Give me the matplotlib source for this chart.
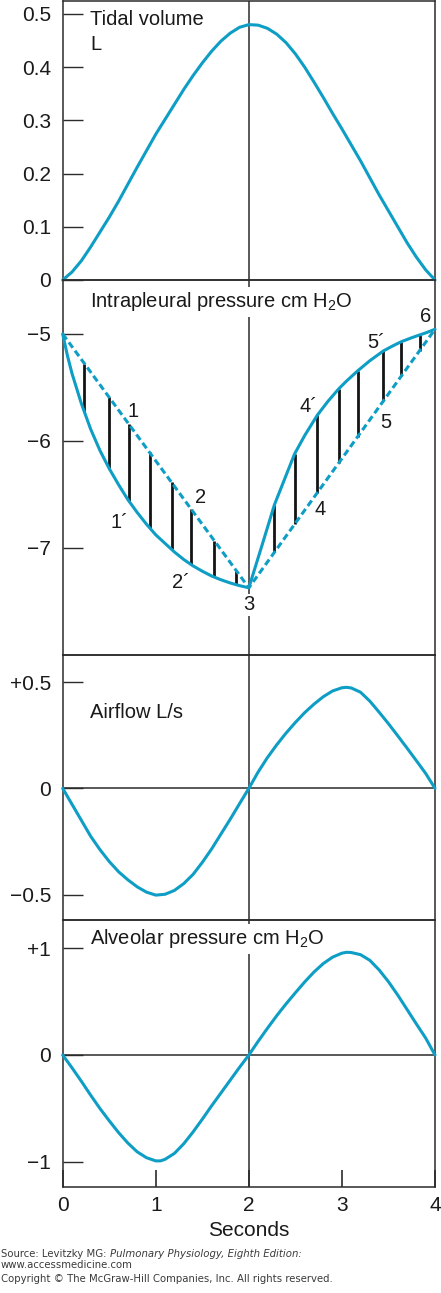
import matplotlib
matplotlib.use("Agg")
import matplotlib.pyplot as plt
import numpy as np

# ---------------- data ----------------
# Tidal volume (L)
tv_t = [0, 0.1, 0.2, 0.3, 0.4, 0.5, 0.6, 0.7, 0.8, 0.9, 1.0, 1.1, 1.2, 1.3, 1.4, 1.5, 1.6, 1.7, 1.8, 1.9,
        2.0, 2.1, 2.2, 2.3, 2.4, 2.5, 2.6, 2.7, 2.8, 2.9, 3.0, 3.1, 3.2, 3.3, 3.4, 3.5, 3.6, 3.7, 3.8, 3.9, 4.0]
tv_v = [0, 0.015, 0.036, 0.062, 0.09, 0.118, 0.148, 0.18, 0.212, 0.243, 0.274, 0.302, 0.330, 0.358, 0.384,
        0.408, 0.43, 0.449, 0.464, 0.475, 0.48, 0.479, 0.473, 0.462, 0.446, 0.425, 0.40, 0.372, 0.343, 0.313,
        0.284, 0.254, 0.224, 0.192, 0.16, 0.13, 0.1, 0.07, 0.043, 0.019, 0]

# Intrapleural pressure (cm H2O), solid curve
ip_t = [0, 0.05, 0.1, 0.2, 0.3, 0.4, 0.5, 0.6, 0.7, 0.8, 0.9, 1.0, 1.1, 1.2, 1.3, 1.4, 1.5, 1.6, 1.7, 1.8, 1.9, 2.0,
        2.137, 2.274, 2.491, 2.6, 2.737, 2.85, 2.965, 3.05, 3.168, 3.3, 3.445, 3.55, 3.639, 3.75, 3.835, 3.9, 4.0]
ip_v = [-5.0, -5.2, -5.37, -5.65, -5.89, -6.09, -6.26, -6.41, -6.55, -6.67, -6.78, -6.88, -6.96, -7.04, -7.11,
        -7.17, -7.22, -7.265, -7.3, -7.33, -7.355, -7.375,
        -6.99, -6.60, -6.123, -5.95, -5.758, -5.63, -5.514, -5.44, -5.346, -5.25, -5.159, -5.11, -5.072,
        -5.035, -5.009, -4.99, -4.956]
# Dashed straight line (static pressure) end points
dash_t = [0, 2.0, 4.0]
dash_v = [-5.0, -7.375, -4.956]
# positions of vertical hatch lines
hatch_left_t = [0.234, 0.494, 0.709, 0.933, 1.169, 1.382, 1.63, 1.865]
hatch_right_t = [2.274, 2.491, 2.737, 2.965, 3.168, 3.445, 3.639, 3.835]
# point labels
pt_labels = ["1", "2", "1´", "2´", "3", "4´", "4", "5", "5´", "6"]
pt_x = [0.76, 1.484, 0.607, 1.265, 2.0, 2.642, 2.768, 3.474, 3.368, 3.895]
pt_y = [-5.73, -6.534, -6.768, -7.329, -7.535, -5.683, -6.646, -5.833, -5.084, -4.84]

# Airflow (L/s)
af_t = [0, 0.1, 0.2, 0.3, 0.4, 0.5, 0.6, 0.7, 0.8, 0.9, 1.0, 1.1, 1.2, 1.3, 1.4, 1.5, 1.6, 1.7, 1.8, 1.9,
        2.0, 2.1, 2.2, 2.3, 2.4, 2.5, 2.6, 2.7, 2.8, 2.9, 3.0, 3.05, 3.1, 3.2, 3.3, 3.4, 3.5, 3.6, 3.7, 3.8, 3.9, 4.0]
af_v = [0, -0.075, -0.15, -0.225, -0.288, -0.344, -0.392, -0.43, -0.463, -0.488, -0.502, -0.498, -0.48,
        -0.448, -0.405, -0.348, -0.285, -0.215, -0.145, -0.072,
        0, 0.077, 0.145, 0.205, 0.26, 0.31, 0.356, 0.396, 0.431, 0.458, 0.473, 0.475, 0.472, 0.452, 0.41,
        0.358, 0.304, 0.247, 0.189, 0.13, 0.07, 0]

# Alveolar pressure (cm H2O)
ap_t = [0, 0.1, 0.2, 0.3, 0.4, 0.5, 0.6, 0.7, 0.8, 0.9, 1.0, 1.05, 1.1, 1.2, 1.3, 1.4, 1.5, 1.6, 1.7, 1.8, 1.9,
        2.0, 2.1, 2.2, 2.3, 2.4, 2.5, 2.6, 2.7, 2.8, 2.9, 3.0, 3.05, 3.1, 3.2, 3.3, 3.4, 3.5, 3.6, 3.7, 3.8, 3.9, 4.0]
ap_v = [0, -0.12, -0.245, -0.375, -0.5, -0.615, -0.725, -0.823, -0.905, -0.96, -0.99, -0.99, -0.975, -0.92,
        -0.83, -0.72, -0.6, -0.475, -0.355, -0.235, -0.115,
        0, 0.128, 0.25, 0.368, 0.478, 0.582, 0.683, 0.776, 0.855, 0.915, 0.952, 0.96, 0.958, 0.938, 0.885,
        0.795, 0.685, 0.56, 0.425, 0.29, 0.158, 0]

x_ticks = [0, 1, 2, 3, 4]
x_ticklabels = ["0", "1", "2", "3", "4"]
tv_ticks = [0, 0.1, 0.2, 0.3, 0.4, 0.5]
tv_ticklabels = ["0", "0.1", "0.2", "0.3", "0.4", "0.5"]
ip_ticks = [-7, -6, -5]
ip_ticklabels = ["\u22127", "\u22126", "\u22125"]
af_ticks = [-0.5, 0, 0.5]
af_ticklabels = ["\u22120.5", "0", "+0.5"]
ap_ticks = [-1, 0, 1]
ap_ticklabels = ["\u22121", "0", "+1"]

# ---------------- style ----------------
plt.rcParams['font.family'] = ['Liberation Sans', 'DejaVu Sans']
plt.rcParams['mathtext.fontset'] = 'custom'
plt.rcParams['mathtext.rm'] = 'Liberation Sans'
plt.rcParams['mathtext.it'] = 'Liberation Sans'
CURVE = '#0e9ec5'
FRAME = '#2b2b2b'
TXT = '#1a1a1a'
LW = 2.2
TICKFS = 15
TITLEFS = 14.5

W, H = 441, 1293
fig = plt.figure(figsize=(W / 100, H / 100), dpi=100)

left = 62.7 / W
width = (435 - 62.7) / W

def mk(top_px, bot_px):
    return fig.add_axes([left, (H - bot_px) / H, width, (bot_px - top_px) / H])

ax1 = mk(1, 280)
ax2 = mk(280, 655)
ax3 = mk(655, 920)
ax4 = mk(920, 1187)
axes = [ax1, ax2, ax3, ax4]

for ax in axes:
    ax.set_xlim(0, 4)
    for s in ax.spines.values():
        s.set_color(FRAME)
        s.set_linewidth(1.1)
    ax.tick_params(axis='y', direction='in', length=14.5, width=1.0, color=FRAME,
                   pad=8.4, labelsize=TICKFS, labelcolor=TXT)
    ax.tick_params(axis='x', direction='in', length=12.5, width=1.2, color=FRAME,
                   pad=6.5, labelsize=TICKFS, labelcolor=TXT)
    ax.set_xticks(x_ticks)
    ax.set_facecolor('none')

for ax in [ax1, ax2, ax3]:
    ax.tick_params(axis='x', length=0, labelbottom=False)

CURVE_KW = dict(color=CURVE, lw=LW, solid_joinstyle='round', solid_capstyle='round', clip_on=False)

# Panel 1: tidal volume
ax1.set_ylim(0, 0.5244)
ax1.set_yticks(tv_ticks, tv_ticklabels)
ax1.axvline(2, color=FRAME, lw=1.1, zorder=1)
ax1.plot(tv_t, tv_v, zorder=3, **CURVE_KW)
ax1.text(0.0733, 0.914, "Tidal volume", transform=ax1.transAxes, fontsize=TITLEFS,
         color=TXT, va='baseline', ha='left')
ax1.text(0.0733, 0.823, "L", transform=ax1.transAxes, fontsize=TITLEFS,
         color=TXT, va='baseline', ha='left')

# Panel 2: intrapleural pressure
ax2.set_ylim(-8.004, -4.495)
ax2.set_yticks(ip_ticks, ip_ticklabels)
ax2.axvline(2, color=FRAME, lw=1.1, zorder=1)
ip_at = lambda t: np.interp(t, ip_t, ip_v)
dash_at = lambda t: np.interp(t, dash_t, dash_v)
ax2.vlines(hatch_left_t, ip_at(hatch_left_t), dash_at(hatch_left_t),
           color='#141414', lw=2.0, zorder=2)
ax2.vlines(hatch_right_t, dash_at(hatch_right_t), ip_at(hatch_right_t),
           color='#141414', lw=2.0, zorder=2)
ax2.plot(dash_t, dash_v, color=CURVE, lw=LW, linestyle=(0, (2.2, 1.2)), zorder=3, clip_on=False)
ax2.plot(ip_t, ip_v, zorder=4, **CURVE_KW)
for lab, x, y in zip(pt_labels, pt_x, pt_y):
    bb = dict(facecolor='white', edgecolor='none', pad=1.0) if lab == "3" else None
    ax2.text(x, y, lab, fontsize=TITLEFS, color=TXT, ha='center', va='center', bbox=bb, zorder=5)
ax2.text(0.0733, 0.927, r"Intrapleural pressure cm H$_2$O", transform=ax2.transAxes,
         fontsize=TITLEFS, color=TXT, va='baseline', ha='left', zorder=5,
         bbox=dict(facecolor='white', edgecolor='none', pad=2.5))

# Panel 3: airflow
ax3.set_ylim(-0.619, 0.627)
ax3.set_yticks(af_ticks, af_ticklabels)
ax3.axvline(2, color=FRAME, lw=1.1, zorder=1)
ax3.axhline(0, color=FRAME, lw=1.1, zorder=1)
ax3.plot(af_t, af_v, zorder=3, **CURVE_KW)
ax3.text(0.0733, 0.761, "Airflow L/s", transform=ax3.transAxes, fontsize=TITLEFS,
         color=TXT, va='baseline', ha='left')

# Panel 4: alveolar pressure
ax4.set_ylim(-1.234, 1.262)
ax4.set_yticks(ap_ticks, ap_ticklabels)
ax4.axvline(2, color=FRAME, lw=1.1, zorder=1)
ax4.axhline(0, color=FRAME, lw=1.1, zorder=1)
ax4.plot(ap_t, ap_v, zorder=3, **CURVE_KW)
ax4.text(0.0733, 0.909, r"Alveolar pressure cm H$_2$O", transform=ax4.transAxes,
         fontsize=TITLEFS, color=TXT, va='baseline', ha='left', zorder=5,
         bbox=dict(facecolor='white', edgecolor='none', pad=2.5))
ax4.set_xticks(x_ticks, x_ticklabels)
ax4.set_xlabel("Seconds", fontsize=TICKFS, color=TXT, labelpad=4)

# Source / copyright text
SRC = '#3a3a3a'
SFS = 7.3
t1 = fig.text(0.002, 1 - 1257 / H, "Source: Levitzky MG: ", fontsize=SFS, color=SRC,
              family='DejaVu Sans', va='baseline', ha='left')
ax4.annotate("Pulmonary Physiology, Eighth Edition:", xy=(1, 0), xycoords=t1,
             fontsize=SFS, color=SRC, family='DejaVu Sans', style='italic',
             va='bottom', ha='left', annotation_clip=False)
fig.text(0.002, 1 - 1268 / H, "www.accessmedicine.com", fontsize=SFS, color=SRC,
         family='DejaVu Sans', va='baseline', ha='left')
fig.text(0.002, 1 - 1282 / H, "Copyright \u00a9 The McGraw-Hill Companies, Inc. All rights reserved.",
         fontsize=SFS, color=SRC, family='DejaVu Sans', va='baseline', ha='left')

fig.savefig("out.png", dpi=100)
